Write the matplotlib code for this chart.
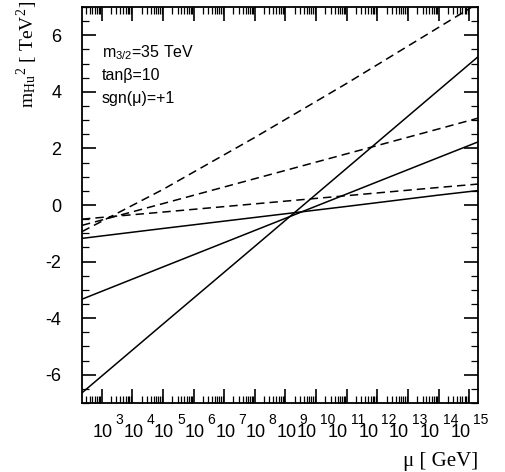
import matplotlib
matplotlib.use("Agg")
import matplotlib.pyplot as plt
import matplotlib.transforms as mtransforms
from matplotlib.ticker import FixedLocator, MultipleLocator, NullFormatter, LogLocator
import numpy as np

plt.rcParams['font.family'] = ['Liberation Sans', 'DejaVu Sans']
plt.rcParams['mathtext.fontset'] = 'custom'
plt.rcParams['mathtext.rm'] = 'Liberation Sans'
plt.rcParams['axes.unicode_minus'] = False

# log10(mu / GeV) nodes
log_mu = [2.357, 5.0, 8.0, 11.0, 14.0, 15.285]

# solid curves (m_Hu^2 in TeV^2)
solid_steep = [-6.64, -4.21, -1.46, 1.30, 4.06, 5.24]
solid_mid = [-3.33, -2.19, -0.90, 0.39, 1.68, 2.23]
solid_flat = [-1.18, -0.83, -0.44, -0.05, 0.35, 0.51]

# dashed curves
dash_steep = [-0.94, 0.55, 2.39, 4.30, 6.28, 7.13]
dash_mid = [-0.72, 0.05, 0.93, 1.81, 2.69, 3.07]
dash_flat = [-0.50, -0.25, 0.04, 0.33, 0.62, 0.74]

x_exponents = list(range(3, 16))
y_ticks = [-6, -4, -2, 0, 2, 4, 6]

mu = 10.0 ** np.array(log_mu)

fig = plt.figure(figsize=(5.06, 4.72), dpi=100)
ax = fig.add_axes([82/506, 1 - 403/472, 396/506, 396/472])

for ys in (solid_steep, solid_mid, solid_flat):
    ax.plot(mu, ys, color='black', lw=1.1)
for ys in (dash_steep, dash_mid, dash_flat):
    ax.plot(mu, ys, color='black', lw=1.1, dashes=(5.5, 3.3))

ax.set_xscale('log')
ax.set_xlim(mu[0], mu[-1])
ax.set_ylim(-7, 7)

ax.xaxis.set_major_locator(FixedLocator([10.0**e for e in x_exponents]))
ax.xaxis.set_minor_locator(LogLocator(base=10, subs=np.arange(2, 10), numticks=100))
ax.xaxis.set_major_formatter(NullFormatter())
ax.xaxis.set_minor_formatter(NullFormatter())

ax.yaxis.set_major_locator(FixedLocator(y_ticks))
ax.yaxis.set_minor_locator(MultipleLocator(0.5))
ax.set_yticklabels([str(v) for v in y_ticks])

ax.tick_params(which='both', direction='in', top=True, right=True, width=0.9)
ax.tick_params(which='major', length=10, width=1.2)
ax.tick_params(which='minor', length=5)
ax.tick_params(axis='y', which='major', pad=15, labelsize=13)
for s in ax.spines.values():
    s.set_linewidth(1.3)

# x tick labels 10^n drawn as base + raised exponent
trans = mtransforms.blended_transform_factory(ax.transData, ax.transAxes)
for e in x_exponents:
    dx = 1 if e < 10 else -9
    t1 = mtransforms.offset_copy(trans, fig=fig, x=dx, y=-34, units='dots')
    ax.text(10.0**e, 0, '10', transform=t1, ha='center', va='baseline',
            fontsize=13, clip_on=False)
    t2 = mtransforms.offset_copy(trans, fig=fig, x=dx + 13, y=-21, units='dots')
    ax.text(10.0**e, 0, str(e), transform=t2, ha='left', va='baseline',
            fontsize=10, clip_on=False)

# parameter box
fig.text(102/506, 1 - 57/472, r'm$_{\mathregular{3/2}}$=35 TeV', fontsize=11.5)
fig.text(102/506, 1 - 80/472, 'tanβ=10', fontsize=11.5)
fig.text(102/506, 1 - 103/472, 'sgn(μ)=+1', fontsize=11.5)

# axis titles (serif)
serif = ['Liberation Serif', 'DejaVu Serif']
fig.text(478/506, 1 - 466/472, 'μ [ GeV]', family=serif, fontsize=15,
         ha='right', va='baseline')
fig.text(27/506, 1 - 1/472,
         r'm$_{\mathregular{Hu}}$$^{\mathregular{2}}$ [ TeV$^{\mathregular{2}}$]',
         family=serif, fontsize=14, rotation=90, ha='center', va='top',
         math_fontfamily='stix')

fig.savefig('out.png', dpi=100)
